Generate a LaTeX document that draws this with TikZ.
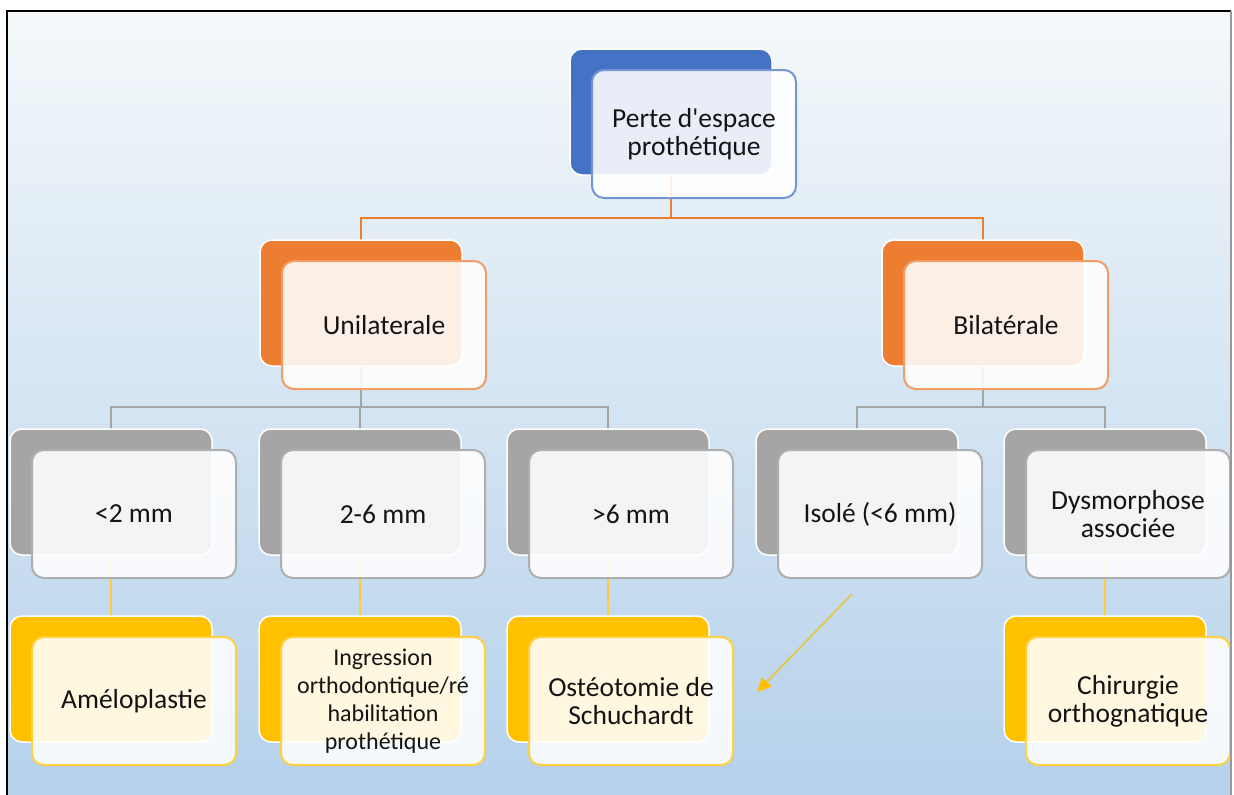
\documentclass[tikz,border=0pt]{standalone}
\usepackage{fontspec}
\setmainfont{Carlito}[Ligatures=TeXOff]
\usepackage{xcolor}
\definecolor{smblue}{RGB}{68,114,196}
\definecolor{smorange}{RGB}{237,125,49}
\definecolor{smgray}{RGB}{165,165,165}
\definecolor{smgold}{RGB}{255,192,0}
\definecolor{arrline}{RGB}{226,200,90}
\definecolor{bgtop}{RGB}{244,248,250}
\definecolor{bgmid}{RGB}{216,230,243}
\definecolor{bgbot}{RGB}{181,209,235}
\usepackage{tikz}
\usetikzlibrary{arrows.meta, backgrounds}
\pgfdeclarelayer{paper}
\pgfsetlayers{paper,background,main}

\begin{document}
\begin{tikzpicture}[x=1pt, y=-1pt,
  backbox/.style={rectangle, rounded corners=12pt, minimum width=202pt,
    minimum height=126pt, inner sep=0pt, outer sep=0pt, draw=white, line width=1.5pt},
  frontbox/.style={rectangle, rounded corners=12pt, minimum width=204pt,
    minimum height=128pt, inner sep=2pt, outer sep=0pt, fill=white,
    fill opacity=0.88, text opacity=1, line width=2pt, align=center, text=black!92,
    font=\fontsize{27.5}{28}\selectfont},
  smalltext/.style={font=\fontsize{24}{28}\selectfont},
  link/.style={line width=1.5pt}]
\useasboundingbox (0,0) rectangle (1234,795);
\begin{pgfonlayer}{paper}
  \fill[white] (0,0) rectangle (1234,795);
  \shade[top color=bgtop, middle color=bgmid, bottom color=bgbot] (7,11) rectangle (1231,795);
\end{pgfonlayer}
% level 1
\node[backbox, fill=smblue] (top-b) at (671,112) {};
\node[frontbox, draw=smblue!75] (top) at (694,134) {Perte d'espace\\prothétique};
% level 2
\node[backbox, fill=smorange] (uni-b) at (361,303) {};
\node[frontbox, draw=smorange!75] (uni) at (384,325) {Unilaterale};
\node[backbox, fill=smorange] (bil-b) at (983,303) {};
\node[frontbox, draw=smorange!75] (bil) at (1006,325) {Bilatérale};
% level 3
\node[backbox, fill=smgray] (lt-b) at (111,492) {};
\node[frontbox, draw=smgray!90] (lt) at (134,514) {<2 mm};
\node[backbox, fill=smgray] (mid-b) at (360,492) {};
\node[frontbox, draw=smgray!90] (mid) at (383,514) {2-6 mm};
\node[backbox, fill=smgray] (gt-b) at (608,492) {};
\node[frontbox, draw=smgray!90] (gt) at (631,514) {>6 mm};
\node[backbox, fill=smgray] (iso-b) at (857,492) {};
\node[frontbox, draw=smgray!90] (iso) at (880,514) {Isolé (<6 mm)};
\node[backbox, fill=smgray] (dys-b) at (1105,492) {};
\node[frontbox, draw=smgray!90] (dys) at (1128,514) {Dysmorphose\\associée};
% level 4
\node[backbox, fill=smgold] (ame-b) at (111,679) {};
\node[frontbox, draw=smgold!75] (ame) at (134,701) {Améloplastie};
\node[backbox, fill=smgold] (ing-b) at (360,679) {};
\node[frontbox, smalltext, draw=smgold!75] (ing) at (383,701)
  {Ingression\\orthodontique/ré\\habilitation\\prothétique};
\node[backbox, fill=smgold] (ost-b) at (608,679) {};
\node[frontbox, draw=smgold!75] (ost) at (631,701) {Ostéotomie de\\Schuchardt};
\node[backbox, fill=smgold] (chi-b) at (1105,679) {};
\node[frontbox, draw=smgold!75] (chi) at (1128,701) {Chirurgie\\orthognatique};
% connectors
\begin{scope}[on background layer]
  \draw[link, smorange] (top-b.south) -- ++(0,43) -| (uni-b.north);
  \draw[link, smorange] (top-b.south) -- ++(0,43) -| (bil-b.north);
  \foreach \k in {lt, mid, gt}
    \draw[link, smgray] (uni-b.south) -- ++(0,41) -| (\k-b.north);
  \foreach \k in {iso, dys}
    \draw[link, smgray] (bil-b.south) -- ++(0,41) -| (\k-b.north);
  \foreach \a/\b in {lt/ame, mid/ing, gt/ost, dys/chi}
    \draw[link, smgold!80!white] (\a-b.south) -- (\b-b.north);
\end{scope}
\coordinate (arr-from) at ([xshift=-28pt, yshift=-16pt]iso.south);
\coordinate (arr-to) at ([xshift=24pt, yshift=9pt]ost.east);
\draw[line width=2pt, arrline, -{Triangle[length=14pt, width=13pt, color=smgold]}]
  (arr-from) -- (arr-to);
% frame
\draw[black, line width=2pt] (7,795) -- (7,11) -- (1231,11);
\draw[gray!80, line width=2pt] (1231,11) -- (1231,795);
\end{tikzpicture}
\end{document}
